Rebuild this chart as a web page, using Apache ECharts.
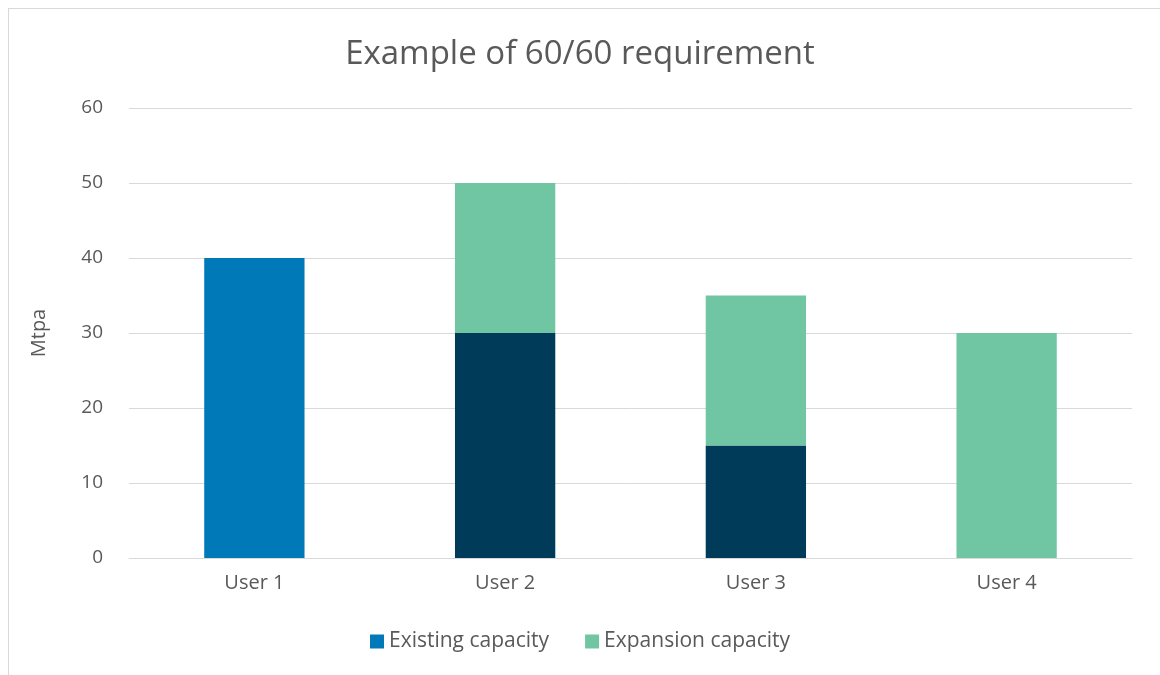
<!DOCTYPE html>
<html><head><meta charset="utf-8">
<script src="https://cdn.jsdelivr.net/npm/echarts@6/dist/echarts.min.js"></script>
<style>html,body{margin:0;padding:0;background:#fff}#c{width:1160px;height:675px}
#frame{position:absolute;left:8px;top:8px;width:1160px;height:680px;border:1px solid #d9d9d9;pointer-events:none}</style>
</head><body><div id="c"></div><div id="frame"></div>
<script>
const categories = ['User 1', 'User 2', 'User 3', 'User 4'];
const existing = [40, 30, 15, 0];
const expansion = [0, 20, 20, 30];
const yTicks = [0, 10, 20, 30, 40, 50, 60];
const existingColors = ['#0079B8', '#003C5A', '#003C5A', '#003C5A'];

const font = '"Open Sans", "Noto Sans", sans-serif';
const chart = echarts.init(document.getElementById('c'));
chart.setOption({
  animation: false,
  textStyle: { fontFamily: font },
  title: { text: 'Example of 60/60 requirement', left: 'center', top: 33,
    textStyle: { fontFamily: font, fontSize: 33, fontWeight: 'normal', color: '#595959' } },
  legend: { bottom: 18, left: 'center', itemWidth: 14, itemHeight: 14, itemGap: 36,
    icon: 'rect',
    textStyle: { fontFamily: font, fontSize: 21, color: '#595959' },
    data: [{ name: 'Existing capacity', itemStyle: { color: '#0079B8' } }, 'Expansion capacity'] },
  grid: { left: 129, right: 28, top: 108, bottom: 117, containLabel: false },
  xAxis: { type: 'category', data: categories,
    axisLine: { lineStyle: { color: '#d9d9d9' } }, axisTick: { show: false },
    axisLabel: { fontFamily: font, fontSize: 20, color: '#595959', margin: 15 } },
  yAxis: { type: 'value', min: yTicks[0], max: yTicks[yTicks.length - 1], interval: 10,
    name: 'Mtpa', nameLocation: 'middle', nameGap: 80, nameRotate: 90,
    nameTextStyle: { fontFamily: font, fontSize: 20, color: '#595959' },
    axisLine: { show: false }, axisTick: { show: false },
    axisLabel: { fontFamily: font, fontSize: 19, color: '#595959', margin: 26 },
    splitLine: { lineStyle: { color: '#d9d9d9', width: 1 } } },
  series: [
    { name: 'Existing capacity', type: 'bar', stack: 's', barWidth: '40%',
      itemStyle: { color: '#0079B8' },
      data: existing.map((v, i) => ({ value: v, itemStyle: { color: existingColors[i] } })) },
    { name: 'Expansion capacity', type: 'bar', stack: 's', barWidth: '40%',
      itemStyle: { color: '#70C6A2' }, data: expansion }
  ]
});
</script></body></html>
